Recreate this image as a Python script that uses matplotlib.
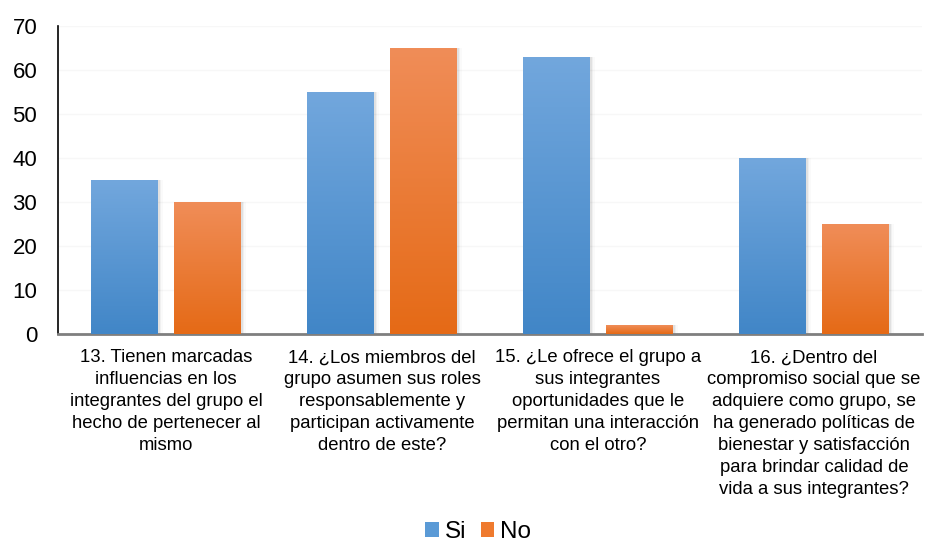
import matplotlib
matplotlib.use("Agg")
import matplotlib.pyplot as plt
import numpy as np
from matplotlib.colors import LinearSegmentedColormap
from matplotlib.patches import Patch

plt.rcParams['font.family'] = ['Liberation Sans', 'DejaVu Sans']

categories = [
    "13. Tienen marcadas\ninfluencias en los\nintegrantes del grupo el\nhecho de pertenecer al\nmismo",
    "14. ¿Los miembros del\ngrupo asumen sus roles\nresponsablemente y\nparticipan activamente\ndentro de este?",
    "15. ¿Le ofrece el grupo a\nsus integrantes\noportunidades que le\npermitan una interacción\ncon el otro?",
    "16. ¿Dentro del\ncompromiso social que se\nadquiere como grupo, se\nha generado políticas de\nbienestar y satisfacción\npara brindar calidad de\nvida a sus integrantes?",
]
si = [35, 55, 63, 40]
no = [30, 65, 2, 25]
series_names = ["Si", "No"]

blue_top, blue_bot = "#72a7dd", "#4186c7"
orng_top, orng_bot = "#f08d58", "#e56a16"

fig = plt.figure(figsize=(9.25, 5.44), dpi=100)
ax = fig.add_axes([0.0627, 0.386, 0.934, 0.566])

x = np.arange(len(categories))
w = 0.31
off = 0.192

def grad_bars(xs, vals, top, bot):
    cmap = LinearSegmentedColormap.from_list("g", [bot, top])
    grad = np.linspace(0, 1, 256).reshape(-1, 1)
    bars = ax.bar(xs, vals, width=w, color=bot, zorder=2, edgecolor='none')
    for b in bars:
        x0, y0 = b.get_x(), b.get_y()
        bw, bh = b.get_width(), b.get_height()
        for k, a in enumerate([0.06, 0.04, 0.02]):
            ax.bar(x0 + bw / 2 + 0.004 * (k + 1), bh, width=bw + 0.008 * (k + 1), bottom=y0,
                   color='black', alpha=a, zorder=1.5, edgecolor='none')
        im = ax.imshow(grad, extent=[x0, x0 + bw, y0, y0 + bh], origin='lower',
                       cmap=cmap, aspect='auto', zorder=3)
        im.set_clip_path(b)
    return bars

grad_bars(x - off, si, blue_top, blue_bot)
grad_bars(x + off, no, orng_top, orng_bot)
ax.set_xlim(-0.5, len(categories) - 0.5)
ax.set_ylim(0, 70)

ax.set_yticks(range(0, 71, 10))
ax.yaxis.grid(True, color='#f7f7f7', linewidth=1, zorder=0)
ax.set_axisbelow(True)
ax.set_xticks(x)
ax.set_xticklabels(categories, fontsize=13.3, linespacing=1.38)
ax.tick_params(axis='y', labelsize=16, length=0, pad=15)
ax.tick_params(axis='x', length=0, pad=11)
for s in ['top', 'right']:
    ax.spines[s].set_visible(False)
ax.spines['left'].set_color('black')
ax.spines['left'].set_linewidth(1.2)
ax.spines['bottom'].set_color('#7f7f7f')
ax.spines['bottom'].set_linewidth(2)

handles = [Patch(facecolor="#5a9ad6", label=series_names[0]),
           Patch(facecolor="#ef7a2e", label=series_names[1])]
fig.legend(handles=handles, loc='center', bbox_to_anchor=(0.517, 0.022), ncol=2,
           frameon=False, fontsize=17.5, handlelength=0.55, handleheight=0.55,
           handletextpad=0.25, columnspacing=0.6, borderpad=0.1)

fig.savefig("out.png", dpi=100)
